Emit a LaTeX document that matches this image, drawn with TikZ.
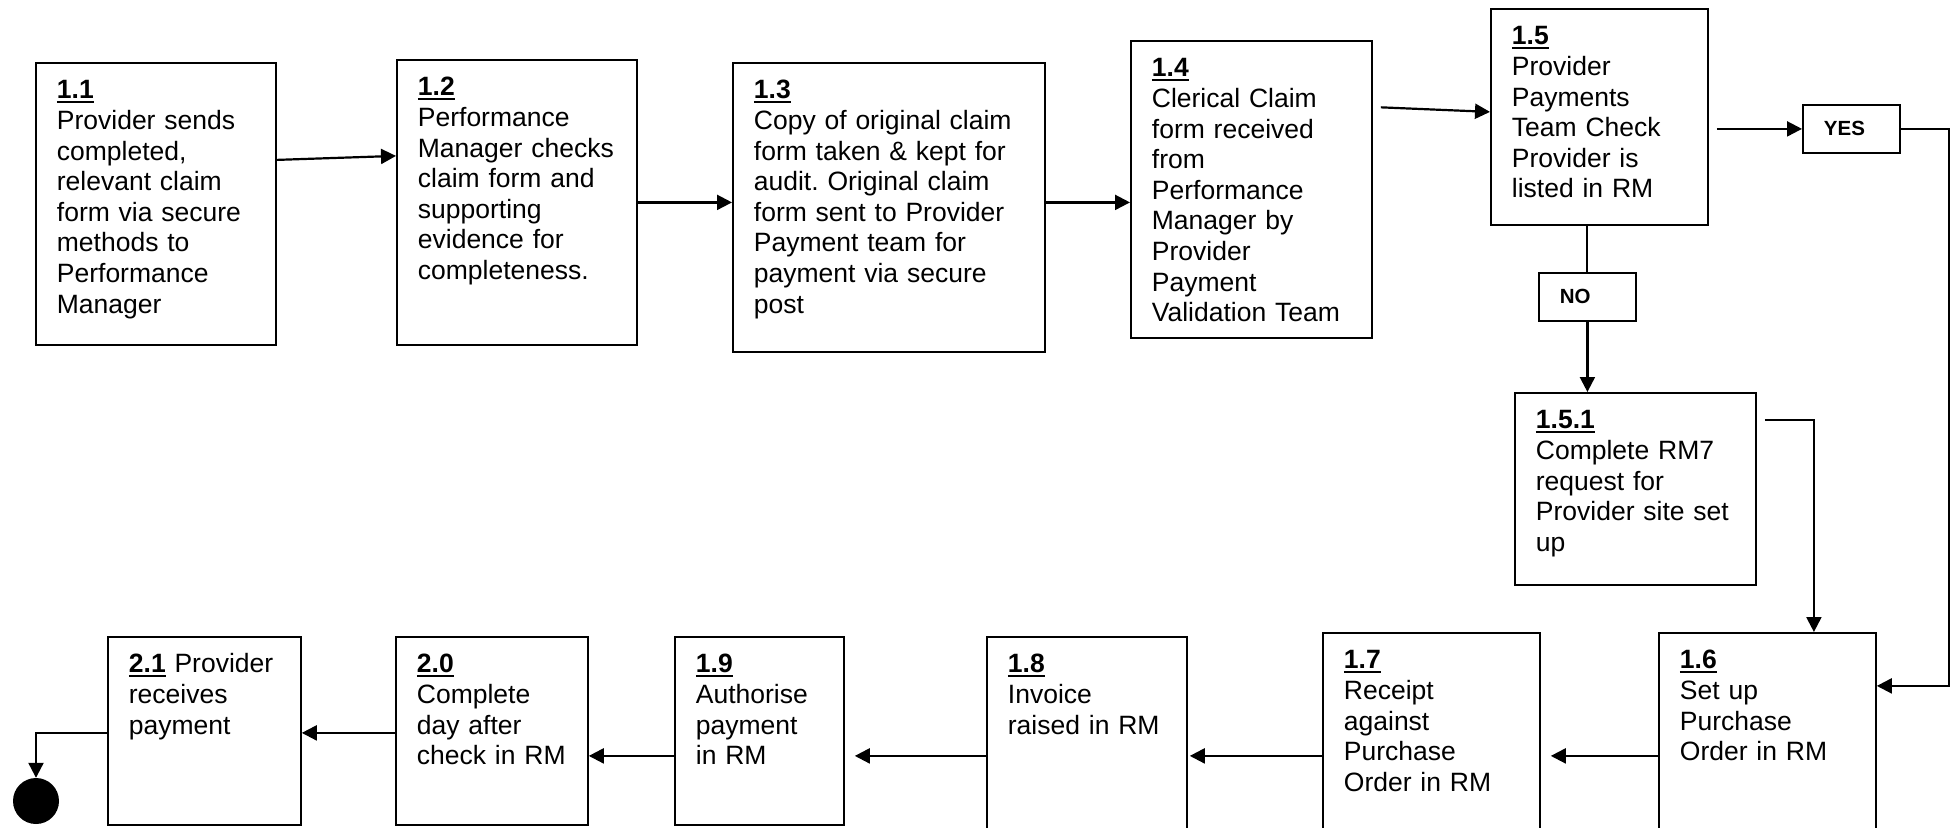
\documentclass[tikz,border=0pt]{standalone}
\usepackage{fontspec}
\setmainfont{Liberation Sans}
\usetikzlibrary{arrows.meta}
\frenchspacing
\newcommand{\stepno}[1]{\setbox0\hbox{\textbf{#1}}\rlap{\rule[-4.5pt]{\wd0}{2.4pt}}\box0\relax}

\begin{document}
\begin{tikzpicture}[x=1pt, y=-1pt,
    stepbox/.style={draw, line width=1.8pt, anchor=north west, align=left,
      inner xsep=21pt, inner ysep=0pt, text height=36pt,
      font=\fontsize{26.5}{30.6}\selectfont},
    answer/.style={draw, line width=1.8pt, anchor=north west, align=left,
      inner xsep=21pt, inner ysep=0pt, text width=55pt, minimum height=48pt,
      font=\fontsize{20.5}{24}\selectfont\bfseries},
    arr/.style={line width=2.2pt, -{Triangle[length=15pt, width=15pt]}},
    link/.style={line width=2pt}]
    \useasboundingbox (0,0) rectangle (1950,827);
    \clip (0,0) rectangle (1950,827);
    % Fila superior
    \node[stepbox, text width=198pt, text depth=246pt] (n11) at (35,62)
      {\stepno{1.1}\\Provider sends\\completed,\\relevant claim\\form via secure\\methods to\\Performance\\Manager};
    \node[stepbox, text width=198pt, text depth=249pt] (n12) at (396,59)
      {\stepno{1.2}\\Performance\\Manager checks\\claim form and\\supporting\\evidence for\\completeness.};
    \node[stepbox, text width=270pt, text depth=253pt] (n13) at (732,62)
      {\stepno{1.3}\\Copy of original claim\\form taken \& kept for\\audit. Original claim\\form sent to Provider\\Payment team for\\payment via secure\\post};
    \node[stepbox, text width=199pt, text depth=261pt] (n14) at (1130,40)
      {\stepno{1.4}\\Clerical Claim\\form received\\from\\Performance\\Manager by\\Provider\\Payment\\Validation Team};
    \node[stepbox, text width=175pt, text depth=180pt] (n15) at (1490,8)
      {\stepno{1.5}\\Provider\\Payments\\Team Check\\Provider is\\listed in RM};
    % Decision
    \node[answer] (yes) at (1802,104) {YES};
    \node[answer] (no) at (1538,272) {NO};
    \node[stepbox, text width=199pt, text depth=156pt] (n151) at (1514,392)
      {\stepno{1.5.1}\\Complete RM7\\request for\\Provider site set\\up};
    % Fila inferior
    \node[stepbox, text width=175pt, text depth=164pt] (n16) at (1658,632)
      {\stepno{1.6}\\Set up\\Purchase\\Order in RM};
    \node[stepbox, text width=175pt, text depth=164pt] (n17) at (1322,632)
      {\stepno{1.7}\\Receipt\\against\\Purchase\\Order in RM};
    \node[stepbox, text width=158pt, text depth=160pt] (n18) at (986,636)
      {\stepno{1.8}\\Invoice\\raised in RM};
    \node[stepbox, text width=127pt, text depth=152pt] (n19) at (674,636)
      {\stepno{1.9}\\Authorise\\payment\\in RM};
    \node[stepbox, text width=150pt, text depth=152pt] (n20) at (395,636)
      {\stepno{2.0}\\Complete\\day after\\check in RM};
    \node[stepbox, text width=151pt, text depth=152pt] (n21) at (107,636)
      {\stepno{2.1} Provider\\receives\\payment};
    \node[circle, fill=black, minimum size=46pt, inner sep=0pt] (stop) at (36,801) {};
    % Flechas
    \draw[arr] ([yshift=44pt]n11.east) -- ([yshift=46.5pt]n12.west);
    \draw[arr] (n12.east) -- (n12.east -| n13.west);
    \draw[arr] (n12.east -| n13.east) -- (n12.east -| n14.west);
    \draw[arr, shorten <=8pt] ([yshift=-67pt]n14.north east) -- ([yshift=5pt]n15.west);
    \draw[arr, shorten <=8pt] (n15.east |- yes.west) -- (yes.west);
    \draw[arr] (yes.east) -- ++(48pt,0) |- ([yshift=47pt]n16.east);
    \draw[link] (n15.south -| no.north) -- (no.north);
    \draw[arr] (no.south) -- (no.south |- n151.north);
    \draw[arr, shorten <=8pt] ([yshift=-28pt]n151.north east) -| ([xshift=46.5pt]n16.north);
    \draw[arr, shorten >=10pt] ([yshift=-23pt]n16.west) -- ([yshift=-23pt]n17.east);
    \draw[arr, shorten >=2pt] ([yshift=-23pt]n17.west) -- ([yshift=-21pt]n18.east);
    \draw[arr, shorten >=10pt] ([yshift=-21pt]n18.west) -- ([yshift=-25pt]n19.east);
    \draw[arr] ([yshift=-25pt]n19.west) -- ([yshift=-25pt]n20.east);
    \draw[arr] ([yshift=-2pt]n20.west) -- ([yshift=-2pt]n21.east);
    \draw[arr] ([yshift=-2pt]n21.west) -| (stop.north);
\end{tikzpicture}
\end{document}
